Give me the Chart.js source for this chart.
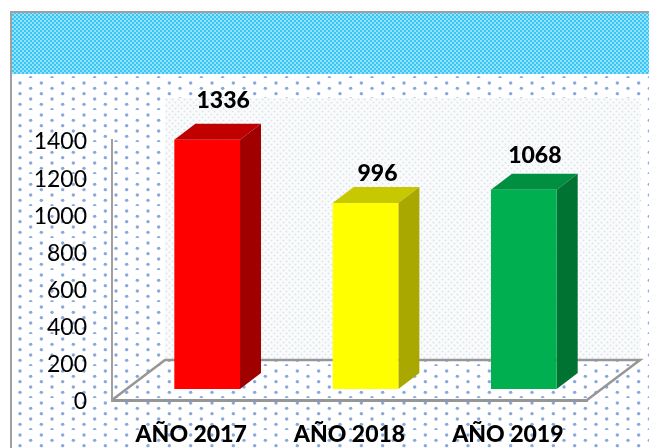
<!DOCTYPE html>
<html><head><meta charset="utf-8">
<style>html,body{margin:0;padding:0;background:#fff;overflow:hidden}canvas{display:block}</style>
<script src="https://cdn.jsdelivr.net/npm/chart.js@4"></script>
</head><body><canvas id="c" width="649" height="448"></canvas>
<script>
const categories = ["AÑO 2017", "AÑO 2018", "AÑO 2019"];
const values = [1336, 996, 1068];
const yTicks = [0, 200, 400, 600, 800, 1000, 1200, 1400];
const frontColors = ["#ff0000", "#ffff00", "#00b050"];
const sideColors = ["#a00000", "#a8a800", "#007232"];
const topColors = ["#c00000", "#c8c800", "#008f40"];
const labelOffsets = [[16, -39], [12, -30], [11, -34]];

const DEPTH_X = 21, DEPTH_Y = -16, SHIFT_X = 16;
const FLOOR_DX = 53, FLOOR_DY = -40;

function makeTile(w, h, base, dots, color, r) {
  const s = document.createElement("canvas"); s.width = w; s.height = h;
  const g = s.getContext("2d");
  g.fillStyle = base; g.fillRect(0, 0, w, h);
  g.fillStyle = color;
  dots.forEach(([x, y]) => { g.beginPath(); g.arc(x, y, r, 0, Math.PI * 2); g.fill(); });
  return s;
}
function fillPat(ctx, tile, ox, oy, x, y, w, h) {
  ctx.save();
  ctx.translate(ox, oy);
  ctx.fillStyle = ctx.createPattern(tile, "repeat");
  ctx.fillRect(x - ox, y - oy, w, h);
  ctx.restore();
}

const scene = {
  id: "scene",
  beforeDraw(chart) {
    const ctx = chart.ctx, a = chart.chartArea;
    ctx.save();
    ctx.fillStyle = "#fff"; ctx.fillRect(0, 0, chart.width, chart.height);
    const u = 32 / 3;
    const sheet = makeTile(64, 32, "#ffffff",
      [[5,5],[5,5+u*2],[5,5+u],[5+u*2,5],[5+u*2,5+u],[5+u*2,5+u*2],[5+u*4,5],[5+u*4,5+u],[5+u*4,5+u*2],
       [5+u,5+u/2],[5+u,5+u*1.5],[5+u,5+u*2.5],[5+u*3,5+u/2],[5+u*3,5+u*1.5],[5+u*3,5+u*2.5],[5+u*5,5+u/2],[5+u*5,5+u*1.5],[5+u*5,5+u*2.5]],
      "#86a9dd", 1.7);
    fillPat(ctx, sheet, 15, 78, 11, 74, 638, 374);
    const band = makeTile(4, 4, "#38c6f8", [[1, 1], [3, 3]], "#b4ebfd", 1);
    fillPat(ctx, band, 12, 12, 12, 12, 637, 62);
    ctx.fillStyle = "#a0a0a0";
    ctx.fillRect(10, 11, 639, 2);
    ctx.fillRect(10, 11, 2, 437);
    const wallTop = 98, wx = a.left + FLOOR_DX, wy = a.bottom + FLOOR_DY, wr = a.right + FLOOR_DX;
    const wall = makeTile(6, 6, "#f9fbfc", [[1.5, 1.5], [4.5, 4.5]], "#dfe5ea", 1);
    fillPat(ctx, wall, wx, wallTop, wx, wallTop, wr - wx, wy - wallTop);
    ctx.strokeStyle = "#969696"; ctx.lineWidth = 2.5;
    ctx.beginPath();
    ctx.moveTo(a.left, a.bottom); ctx.lineTo(wx, wy); ctx.lineTo(wr, wy); ctx.lineTo(a.right, a.bottom);
    ctx.stroke();
    ctx.restore();
  },
  beforeDatasetsDraw(chart) {
    const ctx = chart.ctx;
    ctx.save();
    ctx.translate(SHIFT_X, 0);
    chart.getDatasetMeta(0).data.forEach((b, i) => {
      const l = b.x - b.width / 2, r = b.x + b.width / 2, t = b.y, bot = b.base;
      ctx.fillStyle = topColors[i];
      ctx.beginPath();
      ctx.moveTo(l, t); ctx.lineTo(l + DEPTH_X, t + DEPTH_Y); ctx.lineTo(r + DEPTH_X, t + DEPTH_Y); ctx.lineTo(r, t);
      ctx.closePath(); ctx.fill();
      ctx.fillStyle = sideColors[i];
      ctx.beginPath();
      ctx.moveTo(r, t); ctx.lineTo(r + DEPTH_X, t + DEPTH_Y); ctx.lineTo(r + DEPTH_X, bot + DEPTH_Y); ctx.lineTo(r, bot);
      ctx.closePath(); ctx.fill();
    });
    ctx.restore();
    ctx.save();
    ctx.translate(SHIFT_X, 0);
  },
  afterDatasetsDraw(chart) {
    const ctx = chart.ctx;
    ctx.restore();
    ctx.save();
    ctx.font = "900 23px Lato";
    ctx.fillStyle = "#000";
    ctx.textAlign = "center"; ctx.textBaseline = "middle";
    chart.getDatasetMeta(0).data.forEach((b, i) => {
      ctx.fillText(String(values[i]), b.x + SHIFT_X + labelOffsets[i][0], b.y + labelOffsets[i][1]);
    });
    ctx.restore();
  }
};

new Chart(document.getElementById("c"), {
  type: "bar",
  data: {
    labels: categories,
    datasets: [{
      data: values,
      yAxisID: "yBar",
      backgroundColor: frontColors,
      borderWidth: 0,
      barPercentage: 1,
      categoryPercentage: 0.415,
      clip: false
    }]
  },
  options: {
    responsive: false,
    animation: false,
    events: [],
    layout: { padding: { top: 140, right: 62, left: 0, bottom: 0 } },
    plugins: { legend: { display: false }, tooltip: { enabled: false }, title: { display: false } },
    scales: {
      x: {
        grid: { display: false, drawTicks: false },
        border: { color: "#969696", width: 3 },
        ticks: { color: "#000", font: { family: "Lato", weight: "900", size: 23 }, padding: 21, maxRotation: 0 },
        afterFit(s) { s.height = 48; }
      },
      y: {
        min: 0, max: 1400,
        afterBuildTicks(s) { s.ticks = yTicks.map(v => ({ value: v })); },
        grid: { display: false, drawTicks: false },
        border: { color: "#a0a0a0", width: 2 },
        ticks: { color: "#000", font: { family: "Lato", size: 23 }, padding: 25, labelOffset: 2, callback: v => String(v) },
        afterFit(s) { s.width = 112; }
      },
      yBar: {
        display: false,
        min: -59, max: 1334
      }
    }
  },
  plugins: [scene]
});
</script></body></html>
